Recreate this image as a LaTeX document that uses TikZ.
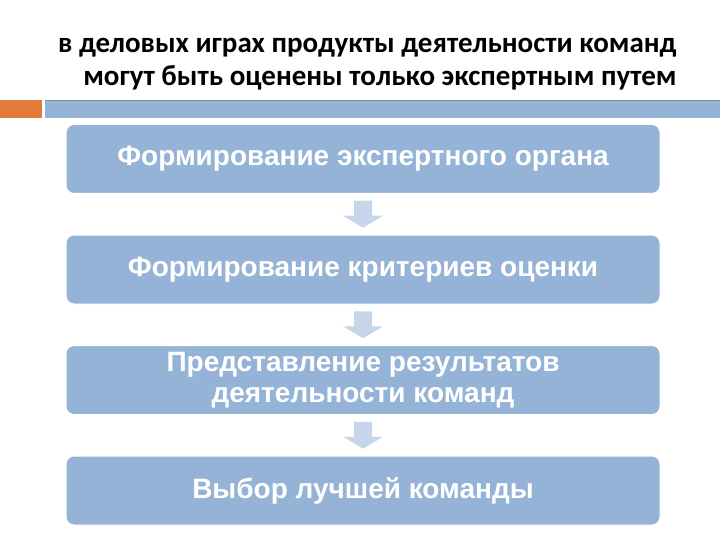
\documentclass[tikz,border=0pt]{standalone}
\usepackage{fontspec}
\setmainfont{Liberation Sans}
\newfontfamily\titlefont{Carlito}
\usetikzlibrary{positioning, calc}

\definecolor{boxblue}{HTML}{95B3D7}
\definecolor{arrblue}{HTML}{C5D6EB}
\definecolor{barorange}{HTML}{E07B39}

\tikzset{
  stagebox/.style={rectangle, rounded corners=8pt, fill=boxblue, draw=white, line width=1pt,
    minimum width=594pt, minimum height=69pt, text=white, align=center,
    font=\bfseries\fontsize{28}{31}\selectfont},
  downarr/.style={fill=arrblue}
}

\begin{document}
\begin{tikzpicture}[x=1pt, y=-1pt, node distance=40.5pt]
  \useasboundingbox (0,0) rectangle (720,540);

  % Заголовок
  \node[anchor=east, align=right, font=\titlefont\bfseries\fontsize{29}{32.5}\selectfont] (title) at (680,64)
    {в деловых играх продукты деятельности команд\\могут быть оценены только экспертным путем};

  % Полосы под заголовком
  \fill[barorange] (0,100) rectangle (42,118);
  \fill[boxblue] (45,100) rectangle (720,118);
  \draw[boxblue!80!black, line width=0.6pt] (45,100.3) -- (720,100.3);

  % Этапы
  \node[stagebox] (f1) at (363,159) {Формирование экспертного органа};
  \node[stagebox, below=of f1] (f2) {Формирование критериев оценки};
  \node[stagebox, below=of f2] (f3) {Представление результатов\\деятельности команд};
  \node[stagebox, below=of f3] (f4) {Выбор лучшей команды};

  % Стрелки между этапами
  \foreach \a/\b in {f1/f2, f2/f3, f3/f4} {
    \coordinate (m) at ($(\a.south)!0.5!(\b.north)$);
    \fill[downarr] ($(m)+(-9,-13.5)$) -- ($(m)+(9,-13.5)$) -- ($(m)+(9,1.5)$) -- ($(m)+(20,1.5)$)
      -- ($(m)+(0,13.5)$) -- ($(m)+(-20,1.5)$) -- ($(m)+(-9,1.5)$) -- cycle;
  }
\end{tikzpicture}
\end{document}
